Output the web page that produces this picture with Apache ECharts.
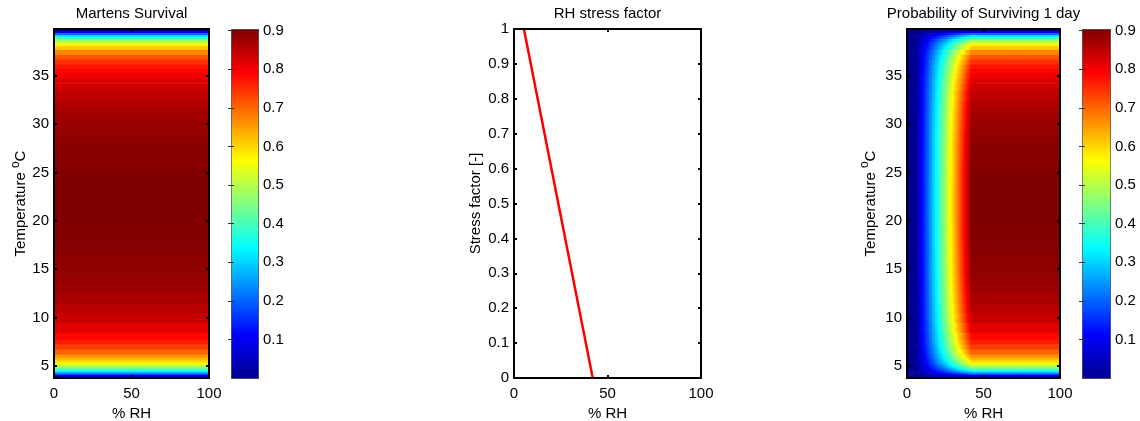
<!DOCTYPE html>
<html>
<head>
<meta charset="utf-8">
<script src="https://cdn.jsdelivr.net/npm/echarts@6/dist/echarts.min.js"></script>
<style>
  html, body { margin: 0; background: #fff; }
  #chart { width: 1140px; height: 421px; }
</style>
</head>
<body>
<div id="chart"></div>
<script>
// temperature rows (°C) and Martens daily survival
const tempRows = [3.8, 3.9, 4.0, 4.1, 4.2, 4.3, 4.4, 4.5, 4.6, 4.8, 5.0, 5.25, 5.5, 5.75, 6, 6.5, 7, 7.5, 8,
  9, 10, 11, 12, 13, 14, 15, 16, 17, 18, 19, 20, 21, 22, 23, 24, 25, 26, 27, 28, 29, 30, 31, 32, 33, 34,
  34.5, 35, 35.5, 36, 36.5, 37, 37.5, 38, 38.25, 38.5, 38.75, 39, 39.2, 39.4, 39.6, 39.7, 39.8];
const survival = [0.001, 0.019, 0.062, 0.117, 0.175, 0.229, 0.279, 0.324, 0.365, 0.434, 0.490, 0.546, 0.590, 0.627, 0.657, 0.704, 0.739, 0.765, 0.786,
  0.817, 0.839, 0.855, 0.867, 0.876, 0.883, 0.889, 0.893, 0.897, 0.900, 0.902, 0.903, 0.904, 0.904, 0.904, 0.903, 0.901, 0.899, 0.896, 0.892, 0.887, 0.881, 0.873, 0.863, 0.850, 0.833,
  0.822, 0.808, 0.792, 0.773, 0.748, 0.717, 0.674, 0.615, 0.576, 0.528, 0.468, 0.389, 0.310, 0.211, 0.098, 0.046, 0.010];

// RH stress line (middle panel)
const stressRh = [5.3, 42.1];
const stressVal = [1, 0];

// RH columns and the share that survives the RH stress (right panel)
const rhCols = [0, 5, 6, 7, 8, 9, 10, 11, 12, 13, 14, 15, 16, 17, 18, 19, 20, 21, 22, 23, 24,
  25, 26, 27, 28, 29, 30, 31, 32, 33, 34, 35, 36, 37, 38, 39, 40, 41, 42, 43, 100];
const rhFactor = [0, 0, 0.019, 0.046, 0.073, 0.101, 0.128, 0.155, 0.182, 0.209, 0.236, 0.264, 0.291, 0.318, 0.345, 0.372, 0.399, 0.427, 0.454, 0.481, 0.508,
  0.535, 0.562, 0.590, 0.617, 0.644, 0.671, 0.698, 0.726, 0.753, 0.780, 0.807, 0.834, 0.861, 0.889, 0.916, 0.943, 0.970, 0.997, 1, 1];

const tempTicks = [5, 10, 15, 20, 25, 30, 35];
const cbTicks = [0.1, 0.2, 0.3, 0.4, 0.5, 0.6, 0.7, 0.8, 0.9];
const T_MIN = 3.75, T_MAX = 39.85, P_MAX = 0.904;

const jet = ['#00008f', '#0000ff', '#0080ff', '#00ffff', '#80ff80', '#ffff00', '#ff8000', '#ff0000', '#800000'];
const FONT = '"Liberation Sans", Arial, Helvetica, sans-serif';
const txt = { color: '#000', fontSize: 15, fontFamily: FONT };

// cell boundaries halfway between neighbours
function edges(vals, lo, hi) {
  return vals.map((v, i) => [
    i ? (vals[i - 1] + v) / 2 : lo,
    i < vals.length - 1 ? (v + vals[i + 1]) / 2 : hi
  ]);
}
const tEdges = edges(tempRows, T_MIN, T_MAX);
const rhEdges = edges(rhCols, 0, 100);

const leftCells = tempRows.map((t, i) => [0, 100, tEdges[i][0], tEdges[i][1], survival[i]]);
const rightCells = [];
tempRows.forEach((t, i) => {
  rhCols.forEach((rh, j) => {
    rightCells.push([rhEdges[j][0], rhEdges[j][1], tEdges[i][0], tEdges[i][1], +(survival[i] * rhFactor[j]).toFixed(4)]);
  });
});

function renderCell(params, api) {
  const p0 = api.coord([api.value(0), api.value(3)]);
  const p1 = api.coord([api.value(1), api.value(2)]);
  return {
    type: 'rect',
    shape: { x: p0[0], y: p0[1], width: p1[0] - p0[0] + 0.6, height: p1[1] - p0[1] + 0.6 },
    style: { fill: api.visual('color') }
  };
}

function boxAxis(gridIndex, position, extra) {
  return Object.assign({
    type: 'value', gridIndex, position, z: 10,
    axisLine: { show: true, onZero: false, lineStyle: { color: '#000', width: 2 } },
    axisTick: { show: true, inside: true, length: 3, lineStyle: { color: '#000', width: 2 } },
    axisLabel: { show: false },
    splitLine: { show: false }
  }, extra);
}
function rhAxis(gridIndex, position, extra) {
  return boxAxis(gridIndex, position, Object.assign({ min: 0, max: 100, interval: 50 }, extra));
}
function tempAxis(gridIndex, position, extra) {
  return boxAxis(gridIndex, position, Object.assign({
    min: T_MIN, max: T_MAX,
    axisTick: { show: true, inside: true, length: 3, customValues: tempTicks, lineStyle: { color: '#000', width: 2 } }
  }, extra));
}
function cbAxis(gridIndex, position, labels) {
  return {
    type: 'value', gridIndex, position, min: 0, max: P_MAX, z: 10,
    axisLine: { show: false },
    axisTick: { show: true, inside: true, length: 3, customValues: cbTicks, lineStyle: { color: '#333', width: 1 } },
    axisLabel: labels ? Object.assign({ show: true, margin: 5, customValues: cbTicks }, txt) : { show: false },
    splitLine: { show: false }
  };
}
const bottomLabels = Object.assign({ show: true, margin: 8 }, txt);
const rhName = { name: '% RH', nameLocation: 'middle', nameGap: 24, nameTextStyle: txt };
const tempName = {
  name: '{n|Temperature }{sup|o}{n|C}', nameLocation: 'middle', nameRotate: 90,
  nameTextStyle: Object.assign({
    rich: {
      n: { fontSize: 15, fontFamily: FONT, color: '#000', lineHeight: 19, verticalAlign: 'bottom' },
      sup: { fontSize: 12, fontFamily: FONT, color: '#000', lineHeight: 12, verticalAlign: 'top' }
    }
  }, txt)
};
const tempLabels = Object.assign({ show: true, margin: 5, customValues: tempTicks }, txt);
function title(text) {
  return { name: text, nameLocation: 'middle', nameGap: 8, nameTextStyle: txt };
}
function plotGrid(left, width) {
  return { left, top: 29, width, height: 349, containLabel: false, outerBoundsMode: 'none' };
}

const chart = echarts.init(document.getElementById('chart'));
chart.setOption({
  animation: false,
  backgroundColor: '#fff',
  grid: [plotGrid(54, 155), plotGrid(231, 27), plotGrid(514, 187), plotGrid(907, 153), plotGrid(1082, 28)],
  xAxis: [
    rhAxis(0, 'bottom', Object.assign({ axisLabel: bottomLabels }, rhName)),
    rhAxis(0, 'top', title('Martens Survival')),
    { type: 'value', gridIndex: 1, min: 0, max: 1, show: false },
    rhAxis(2, 'bottom', Object.assign({ axisLabel: bottomLabels }, rhName)),
    rhAxis(2, 'top', title('RH stress factor')),
    rhAxis(3, 'bottom', Object.assign({ axisLabel: bottomLabels }, rhName)),
    rhAxis(3, 'top', title('Probability of Surviving 1 day')),
    { type: 'value', gridIndex: 4, min: 0, max: 1, show: false }
  ],
  yAxis: [
    tempAxis(0, 'left', Object.assign({ axisLabel: tempLabels, nameGap: 25 }, tempName)),
    tempAxis(0, 'right'),
    cbAxis(1, 'right', true),
    boxAxis(2, 'left', {
      min: 0, max: 1, interval: 0.1,
      axisLabel: Object.assign({ show: true, margin: 5 }, txt),
      name: 'Stress factor [-]', nameLocation: 'middle', nameGap: 31, nameTextStyle: txt
    }),
    boxAxis(2, 'right', { min: 0, max: 1, interval: 0.1 }),
    tempAxis(3, 'left', Object.assign({ axisLabel: tempLabels, nameGap: 29 }, tempName)),
    tempAxis(3, 'right'),
    cbAxis(4, 'right', true),
    cbAxis(1, 'left', false),
    cbAxis(4, 'left', false)
  ],
  visualMap: [
    {
      type: 'continuous', seriesIndex: 0, dimension: 4, min: 0, max: P_MAX,
      left: 231, top: 29, itemWidth: 27, itemHeight: 349, padding: 0,
      calculable: false, hoverLink: false, text: null, showLabel: false,
      borderColor: '#333', borderWidth: 1,
      inRange: { color: jet }
    },
    {
      type: 'continuous', seriesIndex: 1, dimension: 4, min: 0, max: P_MAX,
      left: 1082, top: 29, itemWidth: 28, itemHeight: 349, padding: 0,
      calculable: false, hoverLink: false, text: null, showLabel: false,
      borderColor: '#333', borderWidth: 1,
      inRange: { color: jet }
    }
  ],
  series: [
    {
      type: 'custom', xAxisIndex: 0, yAxisIndex: 0, clip: true,
      renderItem: renderCell, data: leftCells, encode: { x: [0, 1], y: [2, 3] }
    },
    {
      type: 'custom', xAxisIndex: 5, yAxisIndex: 5, clip: true,
      renderItem: renderCell, data: rightCells, encode: { x: [0, 1], y: [2, 3] }
    },
    {
      type: 'line', xAxisIndex: 3, yAxisIndex: 3, showSymbol: false, z: 5,
      lineStyle: { color: '#ff0000', width: 2.5 },
      data: stressRh.map((rh, i) => [rh, stressVal[i]])
    }
  ]
});
</script>
</body>
</html>
